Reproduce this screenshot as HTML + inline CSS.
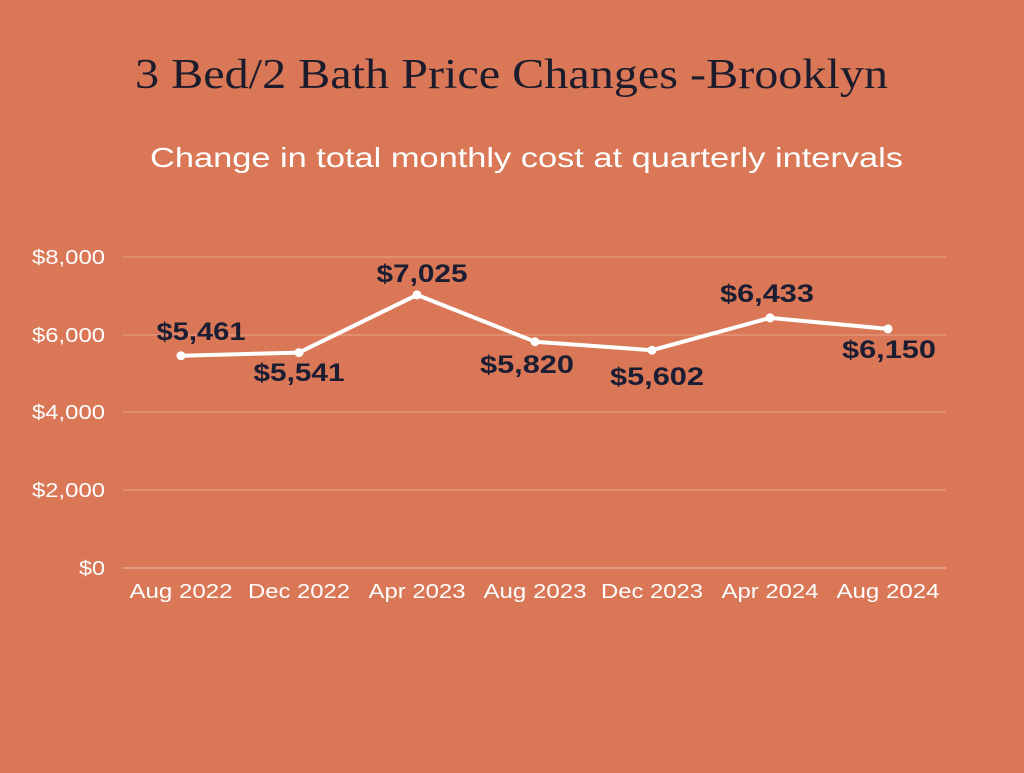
<!DOCTYPE html>
<html><head><meta charset="utf-8"><style>
html,body{margin:0;padding:0;background:#D97756;}
</style></head><body>
<svg width="1024" height="768" viewBox="0 0 1024 768" xmlns="http://www.w3.org/2000/svg">
<rect width="1024" height="768" fill="#D97756"/>
<text x="135" y="88" textLength="753" lengthAdjust="spacingAndGlyphs" font-family="Liberation Serif, serif" font-size="42" fill="#1c1c2c">3 Bed/2 Bath Price Changes -Brooklyn</text>
<text x="150" y="167" textLength="753" lengthAdjust="spacingAndGlyphs" font-family="Liberation Sans, sans-serif" font-size="28" fill="#ffffff">Change in total monthly cost at quarterly intervals</text>
<g stroke="#E9A58C" stroke-width="1">
<line x1="123" y1="257" x2="946" y2="257"/>
<line x1="123" y1="335" x2="946" y2="335"/>
<line x1="123" y1="412" x2="946" y2="412"/>
<line x1="123" y1="490" x2="946" y2="490"/>
<line x1="123" y1="568" x2="946" y2="568" stroke="#F0C0AE"/>
</g>
<g font-family="Liberation Sans, sans-serif" font-size="20" fill="#ffffff">
<text x="32" y="264" textLength="73" lengthAdjust="spacingAndGlyphs">$8,000</text>
<text x="32" y="342" textLength="73" lengthAdjust="spacingAndGlyphs">$6,000</text>
<text x="32" y="419" textLength="73" lengthAdjust="spacingAndGlyphs">$4,000</text>
<text x="32" y="497" textLength="73" lengthAdjust="spacingAndGlyphs">$2,000</text>
<text x="79" y="575" textLength="26" lengthAdjust="spacingAndGlyphs">$0</text>
</g>
<g font-family="Liberation Sans, sans-serif" font-size="20" fill="#ffffff" text-anchor="middle">
<text x="181" y="598" textLength="103" lengthAdjust="spacingAndGlyphs">Aug 2022</text>
<text x="299" y="598" textLength="102" lengthAdjust="spacingAndGlyphs">Dec 2022</text>
<text x="417" y="598" textLength="97" lengthAdjust="spacingAndGlyphs">Apr 2023</text>
<text x="535" y="598" textLength="103" lengthAdjust="spacingAndGlyphs">Aug 2023</text>
<text x="652" y="598" textLength="102" lengthAdjust="spacingAndGlyphs">Dec 2023</text>
<text x="770" y="598" textLength="97" lengthAdjust="spacingAndGlyphs">Apr 2024</text>
<text x="888" y="598" textLength="103" lengthAdjust="spacingAndGlyphs">Aug 2024</text>
</g>
<polyline fill="none" stroke="#ffffff" stroke-width="4" stroke-linejoin="round" points="181,355.7 299,352.6 417,294.9 535,341.7 652,350.2 770,317.9 888,328.9"/>
<g fill="#ffffff">
<circle cx="181" cy="355.7" r="4.5"/><circle cx="299" cy="352.6" r="4.5"/><circle cx="417" cy="294.9" r="4.5"/><circle cx="535" cy="341.7" r="4.5"/><circle cx="652" cy="350.2" r="4.5"/><circle cx="770" cy="317.9" r="4.5"/><circle cx="888" cy="328.9" r="4.5"/>
</g>
<g font-family="Liberation Sans, sans-serif" font-size="25" font-weight="bold" fill="#1b1d33" text-anchor="middle">
<text x="201" y="340" textLength="89" lengthAdjust="spacingAndGlyphs">$5,461</text>
<text x="299" y="381" textLength="91" lengthAdjust="spacingAndGlyphs">$5,541</text>
<text x="422" y="282" textLength="91" lengthAdjust="spacingAndGlyphs">$7,025</text>
<text x="527" y="373" textLength="94" lengthAdjust="spacingAndGlyphs">$5,820</text>
<text x="657" y="385" textLength="94" lengthAdjust="spacingAndGlyphs">$5,602</text>
<text x="767" y="302" textLength="94" lengthAdjust="spacingAndGlyphs">$6,433</text>
<text x="889" y="358" textLength="94" lengthAdjust="spacingAndGlyphs">$6,150</text>
</g>
</svg>
</body></html>
